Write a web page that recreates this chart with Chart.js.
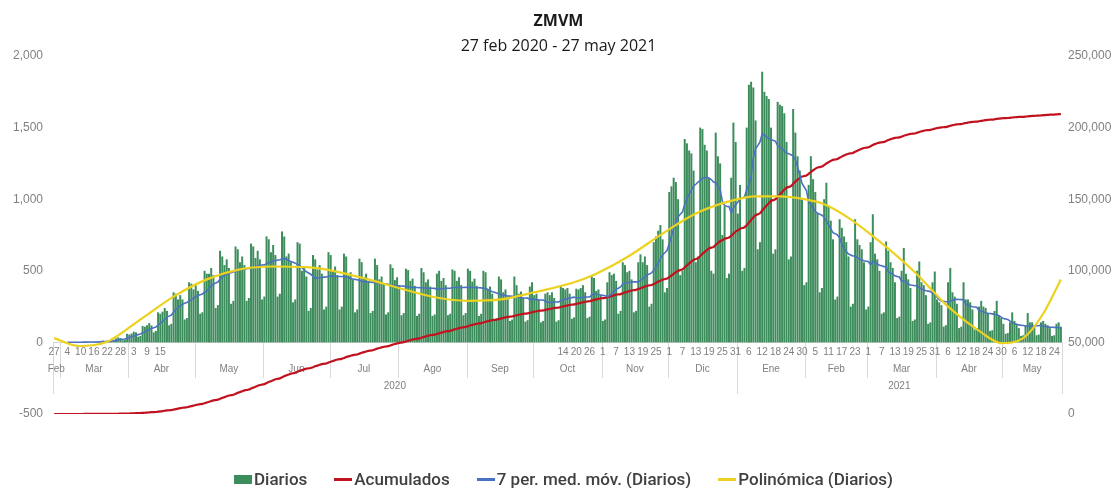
<!DOCTYPE html>
<html>
<head>
<meta charset="utf-8">
<script src="https://cdn.jsdelivr.net/npm/chart.js@4.4.1/dist/chart.umd.min.js"></script>
<style>
  html, body { margin: 0; padding: 0; background: #fff; }
  #wrap { position: relative; width: 1117px; height: 488px; }
  #title { position: absolute; left: 0; width: 1117px; top: 9px; text-align: center; font: bold 16px 'Open Sans'; color: #1a1a1a; }
  #sub { position: absolute; left: 0; width: 1117px; top: 34px; text-align: center; font: 16px 'Open Sans'; color: #1a1a1a; }
  #legend { position: absolute; left: 234px; top: 469px; display: flex; align-items: center; font: 500 17px Roboto; color: #404040; }
  .item { display: flex; align-items: center; margin-right: 27px; }
  .mk { width: 18px; height: 3px; margin-right: 2px; }
</style>
</head>
<body>
<div id="wrap">
  <canvas id="chart" width="1117" height="488"></canvas>
  <div id="title">ZMVM</div>
  <div id="sub">27 feb 2020 - 27 may 2021</div>
  <div id="legend"></div>
</div>
<script>
// daily values, one row per week (Thu..Wed), starting 27 feb 2020
const daily = [
  0, 1, 0, 0, 1, 2, 1,
  1, 2, 1, 1, 2, 3, 2,
  3, 4, 2, 2, 3, 6, 5,
  9, 12, 8, 5, 7, 20, 18,
  28, 35, 30, 15, 18, 60, 55,
  62, 75, 70, 40, 45, 115, 110,
  120, 135, 118, 70, 80, 210, 200,
  215, 240, 220, 120, 130, 350, 340,
  300, 330, 300, 160, 170, 420, 410,
  370, 400, 360, 200, 210, 500, 480,
  480, 520, 470, 240, 260, 640, 600,
  540, 580, 520, 270, 290, 670, 650,
  560, 600, 540, 290, 310, 690, 670,
  590, 640, 580, 300, 320, 740, 720,
  630, 680, 610, 320, 340, 775, 740,
  600, 620, 560, 280, 300, 700, 690,
  500, 520, 460, 220, 240, 610, 580,
  510, 540, 480, 230, 250, 630, 610,
  500, 530, 470, 230, 250, 620, 600,
  470, 490, 440, 210, 230, 585, 560,
  455, 480, 430, 205, 220, 585, 540,
  440, 460, 410, 195, 210, 545, 520,
  435, 455, 400, 190, 205, 515, 505,
  430, 445, 395, 185, 200, 520, 490,
  420, 440, 390, 185, 195, 480, 500,
  430, 450, 400, 190, 200, 510, 500,
  430, 455, 400, 190, 205, 515, 500,
  425, 445, 395, 185, 200, 500, 490,
  370, 390, 340, 160, 170, 460, 440,
  350, 370, 320, 150, 160, 460, 400,
  340, 355, 310, 145, 155, 390, 420,
  330, 340, 300, 140, 150, 340, 350,
  330, 350, 310, 145, 155, 400, 380,
  370, 380, 340, 165, 175, 375, 370,
  380, 400, 350, 170, 180, 460, 450,
  360, 370, 330, 150, 160, 420, 490,
  470, 480, 430, 200, 220, 560, 540,
  490, 500, 440, 210, 220, 560, 615,
  560, 600, 540, 250, 270, 700, 740,
  780, 820, 720, 350, 380, 1050, 1090,
  1150, 1120, 1000, 470, 500, 1420, 1390,
  1340, 1320, 1200, 560, 600, 1500, 1490,
  1380, 1340, 1150, 500, 480, 1465, 1300,
  1250, 750, 950, 450, 480, 1150, 1535,
  1400, 900, 1100, 500, 520, 1500, 1800,
  1820, 1780, 1550, 650, 700, 1890, 1750,
  1720, 1700, 1500, 620, 650, 1680, 1660,
  1650, 1600, 1400, 580, 600, 1630, 1465,
  1300, 1200, 1000, 400, 420, 1100, 1300,
  1140, 1050, 900, 350, 380, 1000, 1115,
  950, 850, 720, 300, 320, 860, 800,
  740, 700, 600, 250, 270, 860, 720,
  680, 650, 560, 230, 250, 700, 895,
  620, 580, 500, 200, 210, 705, 640,
  560, 520, 420, 170, 180, 500, 660,
  480, 440, 380, 150, 160, 500, 565,
  420, 400, 330, 130, 140, 420, 495,
  300, 280, 260, 110, 120, 420, 520,
  350, 320, 270, 100, 110, 420, 300,
  300, 280, 230, 90, 100, 250, 290,
  250, 240, 200, 80, 85, 220, 290,
  190, 170, 130, 60, 65, 140, 210,
  150, 130, 100, 45, 50, 120, 205,
  140, 140, 110, 50, 55, 140, 150,
  130, 120, 100, 45, 50, 130, 140,
  110
];

// polynomial trendline (day index, value)
const polyDays = [0, 11, 24, 39, 54, 69, 84, 99, 114, 126, 142, 157, 172, 187, 202, 217, 234, 245, 260, 275, 290, 305, 317, 328, 339, 348, 358, 373, 389, 404, 419, 428, 438, 447, 455];
const polyVals = [30, -25, 5, 160, 320, 440, 510, 530, 525, 500, 440, 375, 315, 290, 300, 350, 415, 480, 605, 760, 900, 985, 1020, 1020, 1000, 965, 880, 705, 490, 250, 70, -5, 30, 200, 440];

// day numbers shown under the axis
const dayTicks = [0, 6, 12, 18, 24, 30, 36, 42, 48,
  230, 236, 242, 248, 254, 260, 266, 272, 278, 284, 290, 296, 302, 308, 314, 320, 326, 332, 338,
  344, 350, 356, 362, 368, 374, 380, 386, 392, 398, 404, 410, 416, 422, 428, 434, 440, 446, 452];
const monthNames = ['Ene', 'Feb', 'Mar', 'Abr', 'May', 'Jun', 'Jul', 'Ago', 'Sep', 'Oct', 'Nov', 'Dic'];

const leftTicks = { min: -500, max: 2000, step: 500 };
const rightTicks = { min: 0, max: 250000, step: 50000 };

const start = Date.UTC(2020, 1, 27);
const labels = daily.map((_, i) => new Date(start + i * 864e5).toISOString().slice(0, 10));

// derived series: running total and 7 period moving average of the daily values
let run = 0;
const cumulative = daily.map(v => (run += v));
const movingAvg = daily.map((v, i) => i < 6 ? null : daily.slice(i - 6, i + 1).reduce((a, b) => a + b, 0) / 7);
const poly = polyDays.map((d, i) => ({ x: labels[d], y: polyVals[i] }));

const colors = { bars: '#3d8d5c', red: '#c1121f', blue: '#4a72c0', yellow: '#ecd21f' };
const gray = '#808080';

// multi level date axis (days / months / year) drawn at the zero line
const dateAxis = {
  id: 'dateAxis',
  beforeDatasetsDraw(chart) {
    const { ctx, chartArea: area, scales } = chart;
    const x = scales.x;
    const base = Math.round(scales.y.getPixelForValue(0));
    const n = labels.length;
    const edge = i => i <= 0 ? area.left : i >= n ? area.right : (x.getPixelForValue(i - 1) + x.getPixelForValue(i)) / 2;
    const dates = labels.map(l => new Date(l + 'T00:00:00Z'));

    const months = [], years = [];
    dates.forEach((d, i) => {
      const m = d.getUTCMonth(), y = d.getUTCFullYear();
      const lm = months[months.length - 1], ly = years[years.length - 1];
      if (!lm || lm.m !== m) months.push({ m, from: i, to: i }); else lm.to = i;
      if (!ly || ly.y !== y) years.push({ y, from: i, to: i }); else ly.to = i;
    });

    ctx.save();
    ctx.strokeStyle = '#d9d9d9';
    ctx.lineWidth = 1;
    ctx.beginPath();
    ctx.moveTo(area.left, base + 0.5);
    ctx.lineTo(area.right, base + 0.5);
    months.forEach(g => {
      const l = Math.round(edge(g.from)) + 0.5;
      ctx.moveTo(l, base);
      ctx.lineTo(l, base + 36);
    });
    years.forEach(g => {
      [edge(g.from), edge(g.to + 1)].forEach(p => {
        const l = Math.round(p) + 0.5;
        ctx.moveTo(l, base);
        ctx.lineTo(l, base + 52);
      });
    });
    ctx.stroke();

    ctx.fillStyle = gray;
    ctx.textAlign = 'center';
    ctx.textBaseline = 'middle';
    ctx.font = '10px "Liberation Sans"';
    dayTicks.forEach(i => ctx.fillText(String(dates[i].getUTCDate()), x.getPixelForValue(i), base + 10));
    months.forEach(g => ctx.fillText(monthNames[g.m], (edge(g.from) + edge(g.to + 1)) / 2, base + 27));
    years.forEach(g => ctx.fillText(String(g.y), (edge(g.from) + edge(g.to + 1)) / 2, base + 44));
    ctx.restore();
  }
};

const tickFont = { family: 'Liberation Sans', size: 12 };

new Chart(document.getElementById('chart'), {
  type: 'bar',
  data: {
    labels: labels,
    datasets: [
      { type: 'line', label: 'Polinómica (Diarios)', data: poly, yAxisID: 'y', borderColor: colors.yellow,
        borderWidth: 2.2, pointRadius: 0, cubicInterpolationMode: 'monotone', order: 1 },
      { type: 'line', label: '7 per. med. móv. (Diarios)', data: movingAvg, yAxisID: 'y', borderColor: colors.blue,
        borderWidth: 1.6, pointRadius: 0, tension: 0, order: 2 },
      { type: 'line', label: 'Acumulados', data: cumulative, yAxisID: 'y2', borderColor: colors.red,
        borderWidth: 2.2, pointRadius: 0, tension: 0.4, order: 3 },
      { type: 'bar', label: 'Diarios', data: daily, yAxisID: 'y', backgroundColor: colors.bars,
        barPercentage: 0.9, categoryPercentage: 1, order: 4 }
    ]
  },
  options: {
    responsive: false,
    animation: false,
    layout: { padding: { top: 56, bottom: 74, left: 0, right: 0 } },
    plugins: { legend: { display: false }, tooltip: { enabled: false } },
    scales: {
      x: { display: false, offset: true },
      y: {
        position: 'left', min: leftTicks.min, max: leftTicks.max,
        ticks: { stepSize: leftTicks.step, padding: 10, color: gray, font: tickFont,
          callback: v => v.toLocaleString('en-US') },
        grid: { display: false, drawTicks: false }, border: { display: false },
        afterFit(s) { s.width = 53; }
      },
      y2: {
        position: 'right', min: rightTicks.min, max: rightTicks.max,
        ticks: { stepSize: rightTicks.step, padding: 6, color: gray, font: tickFont,
          callback: v => v.toLocaleString('en-US') },
        grid: { display: false, drawTicks: false }, border: { display: false },
        afterFit(s) { s.width = 55; }
      }
    }
  },
  plugins: [dateAxis]
});

// legend in the same order as the reference
const legendItems = [
  { text: 'Diarios', color: colors.bars, box: true },
  { text: 'Acumulados', color: colors.red },
  { text: '7 per. med. móv. (Diarios)', color: colors.blue },
  { text: 'Polinómica (Diarios)', color: colors.yellow }
];
const legend = document.getElementById('legend');
legendItems.forEach(it => {
  const el = document.createElement('div');
  el.className = 'item';
  const mk = document.createElement('span');
  mk.className = 'mk';
  mk.style.background = it.color;
  if (it.box) mk.style.height = '9px';
  el.appendChild(mk);
  el.appendChild(document.createTextNode(it.text));
  legend.appendChild(el);
});
</script>
</body>
</html>
